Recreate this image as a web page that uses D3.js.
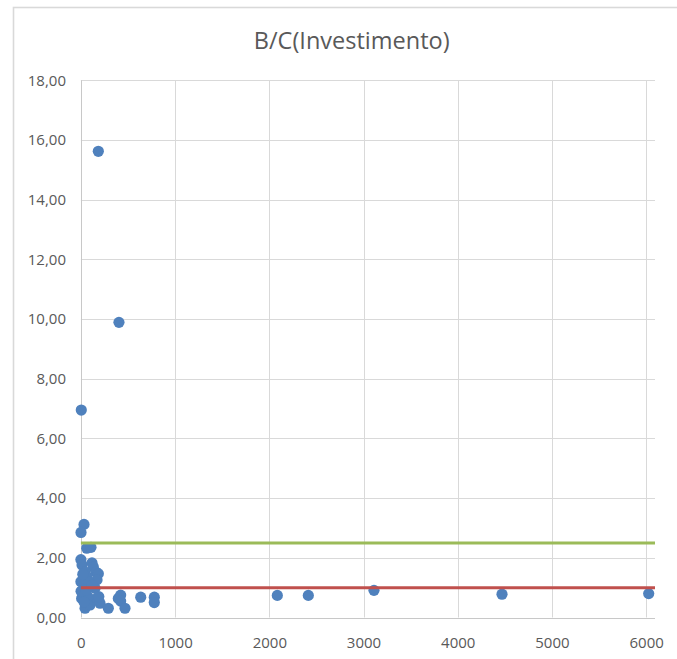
<!DOCTYPE html>
<html>
<head>
<meta charset="utf-8">
<script src="https://cdn.jsdelivr.net/npm/d3@7"></script>
<style>
  html, body { margin: 0; padding: 0; background: #ffffff; }
  svg { display: block; font-family: "Open Sans", sans-serif; }
</style>
</head>
<body>
<svg id="chart" width="677" height="659"></svg>
<script>
// Investment (x) vs benefit/cost ratio (y)
const investimento = [
  4, 185, 404, 33, 1, 62, 107, 0, 12, 118,
  132, 160, 185, 171, 44, 65, 0, 86, 150, 8,
  44, 97, 168, 203, 75, 33, 291, 397, 422, 422,
  468, 635, 779, 779, 2085, 2414, 3111, 4470, 6027,
  2, 55, 120, 20, 190
];
const razaoBC = [
  6.95, 15.62, 9.89, 3.12, 2.85, 2.32, 2.35, 1.94, 1.76, 1.83,
  1.69, 1.52, 1.47, 1.26, 1.53, 1.36, 1.20, 1.19, 0.98, 0.64,
  0.31, 0.42, 0.64, 0.48, 0.69, 0.52, 0.31, 0.64, 0.75, 0.55,
  0.31, 0.68, 0.68, 0.50, 0.74, 0.74, 0.91, 0.78, 0.80,
  0.88, 0.92, 1.08, 1.45, 0.70
];

// Horizontal reference levels
const referencias = [2.5, 1.0];
const coresReferencia = ["#9BBB59", "#C0504D"];

const xTicks = [0, 1000, 2000, 3000, 4000, 5000, 6000];
const yTicks = [0, 2, 4, 6, 8, 10, 12, 14, 16, 18];
const titulo = "B/C(Investimento)";

const svg = d3.select("#chart");

const x = d3.scaleLinear().domain([0, 6094]).range([80.9, 655]);
const y = d3.scaleLinear().domain([0, 18]).range([617.5, 80.3]);

const ptBR = d3.formatLocale({ decimal: ",", thousands: ".", grouping: [3], currency: ["", ""] });
const fmtY = ptBR.format(".2f");
const fmtX = d3.format("d");

// outer chart frame
svg.append("rect")
  .attr("x", 13.5).attr("y", 7.5)
  .attr("width", 720).attr("height", 720)
  .attr("fill", "#ffffff")
  .attr("stroke", "#D9D9D9")
  .attr("stroke-width", 1.6);

// title
svg.append("text")
  .attr("x", 351.7).attr("y", 49.3)
  .attr("text-anchor", "middle")
  .attr("font-size", 23.5)
  .attr("fill", "#595959")
  .text(titulo);

// gridlines
const grid = svg.append("g");
grid.selectAll("line.h").data(yTicks.filter(d => d > 0)).join("line")
  .attr("class", "h")
  .attr("x1", x(0)).attr("x2", x.range()[1])
  .attr("y1", d => Math.round(y(d)) + 0.5).attr("y2", d => Math.round(y(d)) + 0.5)
  .attr("stroke", "#D9D9D9").attr("stroke-width", 1);
grid.selectAll("line.v").data(xTicks.filter(d => d > 0)).join("line")
  .attr("class", "v")
  .attr("x1", d => Math.round(x(d)) + 0.5).attr("x2", d => Math.round(x(d)) + 0.5)
  .attr("y1", y.range()[1]).attr("y2", y(0))
  .attr("stroke", "#D9D9D9").attr("stroke-width", 1);

// axes through the origin
const yAxis = svg.append("g").attr("transform", `translate(${Math.round(x(0)) + 0.5},0)`)
  .call(d3.axisLeft(y).tickValues(yTicks).tickFormat(fmtY).tickSize(0).tickPadding(15.5));
const xAxis = svg.append("g").attr("transform", `translate(0,${Math.round(y(0)) + 0.5})`)
  .call(d3.axisBottom(x).tickValues(xTicks).tickFormat(fmtX).tickSize(0).tickPadding(19));
[xAxis, yAxis].forEach(a => {
  a.select(".domain").attr("stroke", "#C8C8C8").attr("stroke-width", 1);
  a.selectAll("text")
    .attr("font-family", "Open Sans, sans-serif")
    .attr("font-size", 15)
    .attr("fill", "#595959");
});
xAxis.select(".domain").attr("d", `M${x(0)},0H${x.range()[1]}`);
yAxis.select(".domain").attr("d", `M0,${y.range()[1]}V${y(0)}`);

// scatter points
svg.append("g").selectAll("circle")
  .data(investimento.map((v, i) => [v, razaoBC[i]]))
  .join("circle")
  .attr("cx", d => x(d[0]))
  .attr("cy", d => y(d[1]))
  .attr("r", 5.6)
  .attr("fill", "#4F81BD");

// reference lines
svg.append("g").selectAll("line")
  .data(referencias)
  .join("line")
  .attr("x1", x(0)).attr("x2", x.range()[1])
  .attr("y1", d => y(d)).attr("y2", d => y(d))
  .attr("stroke", (d, i) => coresReferencia[i])
  .attr("stroke-width", 3);
</script>
</body>
</html>
